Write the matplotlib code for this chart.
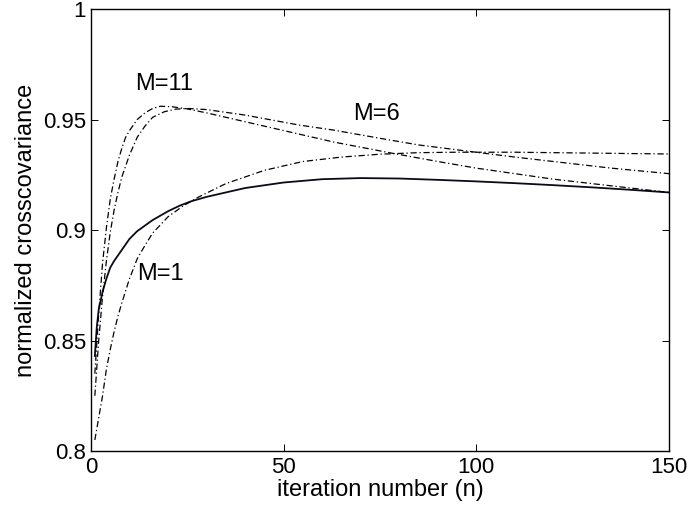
import matplotlib
matplotlib.use('Agg')
import matplotlib.pyplot as plt
from matplotlib.ticker import FormatStrFormatter

plt.rcParams['font.family'] = ['Liberation Sans', 'DejaVu Sans']

# values
n_solid = [1, 1.5, 2, 3, 4, 5, 6, 8, 10, 12, 14, 16, 18, 20, 23, 26, 30, 35, 40, 50, 60, 70, 80, 90, 100, 110, 120,
           130, 140, 150]
c_solid = [0.843, 0.856, 0.864, 0.872, 0.878, 0.883, 0.886, 0.891, 0.896, 0.8995, 0.902, 0.9045, 0.9065, 0.9085,
           0.911, 0.913, 0.915, 0.917, 0.919, 0.9215, 0.923, 0.9235, 0.9233, 0.9227, 0.922, 0.9212, 0.9203, 0.9193,
           0.9182, 0.917]

n_m1 = [1, 2, 3, 4, 5, 6, 7, 8, 10, 12, 14, 16, 20, 24, 28, 35, 45, 55, 65, 75, 85, 95, 110, 130, 150]
c_m1 = [0.805, 0.815, 0.825, 0.837, 0.846, 0.854, 0.861, 0.867, 0.878, 0.887, 0.893, 0.8986, 0.906, 0.911, 0.915,
        0.921, 0.927, 0.931, 0.933, 0.9343, 0.935, 0.9352, 0.9352, 0.9348, 0.9344]

n_m11 = [1, 2, 3, 4, 5, 6, 7, 8, 9, 10, 12, 14, 16, 18, 21, 25, 30, 40, 50, 63, 78, 90, 100, 110, 120, 130, 140, 150]
c_m11 = [0.835, 0.862, 0.885, 0.901, 0.914, 0.923, 0.931, 0.937, 0.942, 0.945, 0.950, 0.953, 0.955, 0.956, 0.9558,
         0.9548, 0.953, 0.949, 0.945, 0.9398, 0.9348, 0.931, 0.928, 0.9255, 0.923, 0.921, 0.919, 0.917]

n_m6 = [1, 2, 3, 4, 5, 6, 7, 8, 10, 12, 14, 16, 19, 22, 25, 30, 40, 54, 63, 75, 85, 99, 110, 120, 135, 150]
c_m6 = [0.825, 0.85, 0.87, 0.886, 0.899, 0.909, 0.917, 0.924, 0.934, 0.942, 0.947, 0.951, 0.9535, 0.9547, 0.955,
        0.9545, 0.952, 0.9475, 0.9452, 0.9415, 0.9385, 0.9354, 0.933, 0.931, 0.928, 0.9255]

fig = plt.figure(figsize=(6.93, 5.12), dpi=100)
ax = fig.add_axes([0.1313, 0.1191, 0.834, 0.8633])

dashdot = (0, (5, 2.2, 1, 2.2))
ax.plot(n_solid, c_solid, color='#0a0a1a', lw=1.3, linestyle='-')
ax.plot(n_m1, c_m1, color='black', lw=0.9, linestyle=dashdot)
ax.plot(n_m11, c_m11, color='black', lw=0.9, linestyle=dashdot)
ax.plot(n_m6, c_m6, color='black', lw=0.9, linestyle=dashdot)

ax.text(19, 0.966, 'M=11', fontsize=17, ha='center', va='center')
ax.text(74, 0.9525, 'M=6', fontsize=17, ha='center', va='center')
ax.text(18, 0.880, 'M=1', fontsize=17, ha='center', va='center')

ax.set_xlim(0, 150)
ax.set_ylim(0.8, 1)
ax.set_xticks([0, 50, 100, 150])
ax.set_yticks([0.8, 0.85, 0.9, 0.95, 1])
ax.yaxis.set_major_formatter(FormatStrFormatter('%g'))
ax.tick_params(direction='in', top=True, right=True, labelsize=16, length=5, width=0.7)
ax.tick_params(axis='x', pad=4)
for s in ax.spines.values():
    s.set_linewidth(1.0)

ax.set_xlabel('iteration number (n)', fontsize=17, labelpad=1)
ax.set_ylabel('normalized crosscovariance', fontsize=17, labelpad=4)

fig.savefig('out.png', dpi=100)
